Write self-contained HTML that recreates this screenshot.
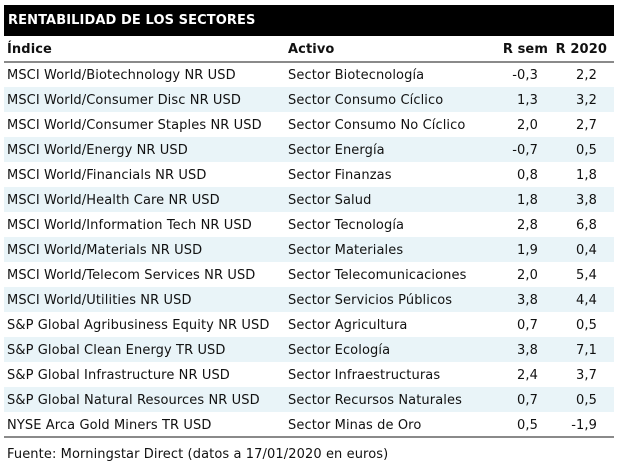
<!DOCTYPE html><html><head><style>
body{margin:0;width:618px;height:468px;background:#fff;font-family:"DejaVu Sans","Liberation Sans",sans-serif;font-size:13px;letter-spacing:0.1px;color:#111;position:relative;overflow:hidden}
.t{position:absolute;left:4px;top:5px;width:610px;height:31px;background:#000;color:#fff;font-weight:bold;font-size:13px;line-height:32px;text-indent:4px}
.h{position:absolute;left:4px;top:36px;width:610px;height:25px;border-bottom:2px solid #8a8a8a;font-weight:bold;font-size:13px}
.r{position:absolute;left:4px;width:610px;height:25px}
.b{background:#e9f4f8}
.c{position:absolute;top:1px;line-height:25px;white-space:nowrap}
.a{left:3px}.s{left:284px}.m{right:76px;text-align:right}.n{right:17px;text-align:right}
.f{position:absolute;left:4px;top:436px;width:610px;border-top:2px solid #8a8a8a}
.ft{position:absolute;left:7px;top:447px;font-size:13px}
</style></head><body>
<div class="t">RENTABILIDAD DE LOS SECTORES</div>
<div class="h"><span class="c a">Índice</span><span class="c s">Activo</span><span class="c m" style="right:66px">R sem</span><span class="c n" style="right:7px">R 2020</span></div>
<div class="r" style="top:62px"><span class="c a">MSCI World/Biotechnology NR USD</span><span class="c s">Sector Biotecnología</span><span class="c m">-0,3</span><span class="c n">2,2</span></div>
<div class="r b" style="top:87px"><span class="c a">MSCI World/Consumer Disc NR USD</span><span class="c s">Sector Consumo Cíclico</span><span class="c m">1,3</span><span class="c n">3,2</span></div>
<div class="r" style="top:112px"><span class="c a">MSCI World/Consumer Staples NR USD</span><span class="c s">Sector Consumo No Cíclico</span><span class="c m">2,0</span><span class="c n">2,7</span></div>
<div class="r b" style="top:137px"><span class="c a">MSCI World/Energy NR USD</span><span class="c s">Sector Energía</span><span class="c m">-0,7</span><span class="c n">0,5</span></div>
<div class="r" style="top:162px"><span class="c a">MSCI World/Financials NR USD</span><span class="c s">Sector Finanzas</span><span class="c m">0,8</span><span class="c n">1,8</span></div>
<div class="r b" style="top:187px"><span class="c a">MSCI World/Health Care NR USD</span><span class="c s">Sector Salud</span><span class="c m">1,8</span><span class="c n">3,8</span></div>
<div class="r" style="top:212px"><span class="c a">MSCI World/Information Tech NR USD</span><span class="c s">Sector Tecnología</span><span class="c m">2,8</span><span class="c n">6,8</span></div>
<div class="r b" style="top:237px"><span class="c a">MSCI World/Materials NR USD</span><span class="c s">Sector Materiales</span><span class="c m">1,9</span><span class="c n">0,4</span></div>
<div class="r" style="top:262px"><span class="c a">MSCI World/Telecom Services NR USD</span><span class="c s">Sector Telecomunicaciones</span><span class="c m">2,0</span><span class="c n">5,4</span></div>
<div class="r b" style="top:287px"><span class="c a">MSCI World/Utilities NR USD</span><span class="c s">Sector Servicios Públicos</span><span class="c m">3,8</span><span class="c n">4,4</span></div>
<div class="r" style="top:312px"><span class="c a">S&amp;P Global Agribusiness Equity NR USD</span><span class="c s">Sector Agricultura</span><span class="c m">0,7</span><span class="c n">0,5</span></div>
<div class="r b" style="top:337px"><span class="c a">S&amp;P Global Clean Energy TR USD</span><span class="c s">Sector Ecología</span><span class="c m">3,8</span><span class="c n">7,1</span></div>
<div class="r" style="top:362px"><span class="c a">S&amp;P Global Infrastructure NR USD</span><span class="c s">Sector Infraestructuras</span><span class="c m">2,4</span><span class="c n">3,7</span></div>
<div class="r b" style="top:387px"><span class="c a">S&amp;P Global Natural Resources NR USD</span><span class="c s">Sector Recursos Naturales</span><span class="c m">0,7</span><span class="c n">0,5</span></div>
<div class="r" style="top:412px"><span class="c a">NYSE Arca Gold Miners TR USD</span><span class="c s">Sector Minas de Oro</span><span class="c m">0,5</span><span class="c n">-1,9</span></div>
<div class="f"></div>
<div class="ft">Fuente: Morningstar Direct (datos a 17/01/2020 en euros)</div>
</body></html>
